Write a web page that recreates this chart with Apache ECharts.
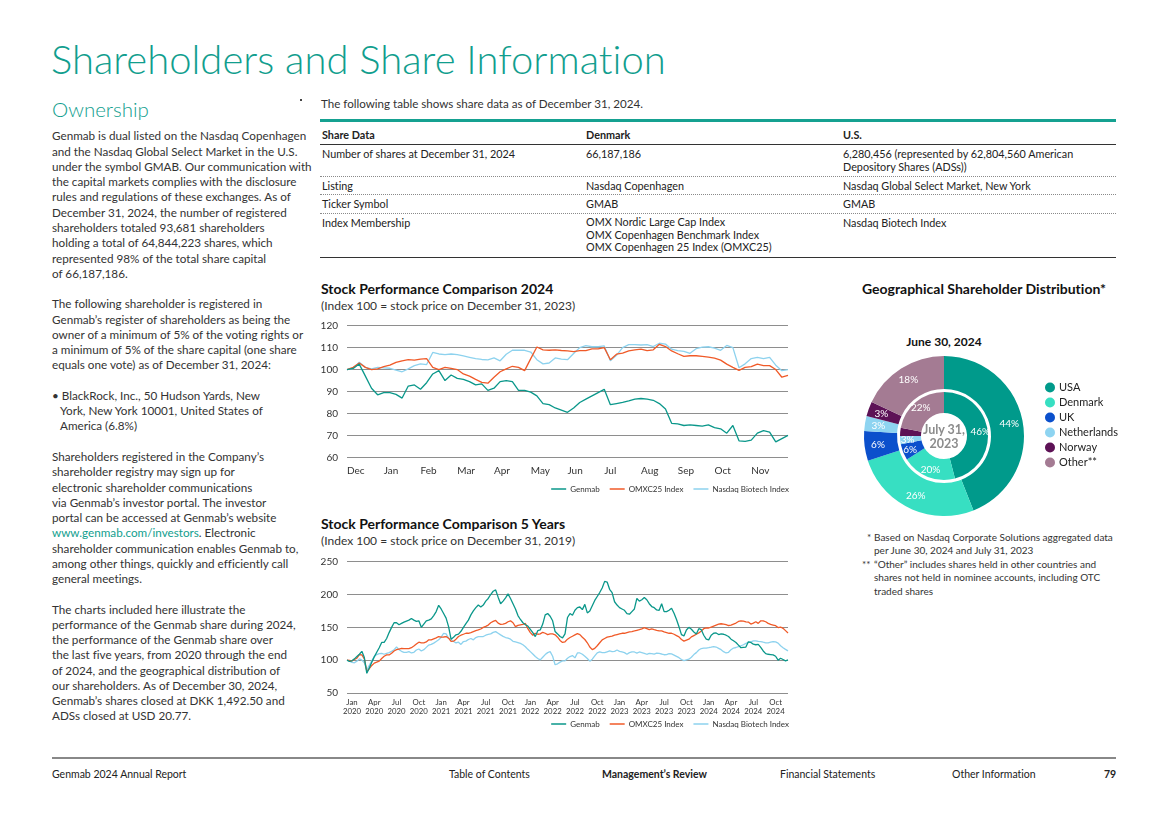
<!DOCTYPE html>
<html>
<head>
<meta charset="utf-8">
<title>Shareholders and Share Information</title>
<script src="https://cdn.jsdelivr.net/npm/echarts@6/dist/echarts.min.js"></script>
<style>
  body { margin: 0; background: #fff; }
  #page {
    position: relative;
    width: 1168px;
    height: 825px;
    overflow: hidden;
    font-family: Lato, "Noto Sans", sans-serif;
    font-variant-ligatures: none;
    color: #333;
  }
  .t { position: absolute; white-space: nowrap; }
  .teal { color: #119e8e; }
  .tbl { font-size: 10.8px; line-height: 13px; color: #222; }
  .rule { position: absolute; left: 320px; width: 796px; }
  .dot { border-top: 1px dotted #8a8a8a; }
  .ch-title { font-size: 14px; font-weight: 700; color: #111; line-height: 16px; }
  .ch-sub { font-size: 12px; color: #333; line-height: 14px; }
  .foot { font-size: 10.5px; color: #222; line-height: 12px; top: 768px; }
</style>
</head>
<body>
<div id="page">
  <div class="t teal" style="left:51px; top:35px; font-size:40px; line-height:48px; font-weight:300;">Shareholders and Share Information</div>

  <div class="t teal" style="left:52px; top:97px; font-size:20.5px; line-height:24px; font-weight:300;">Ownership</div>
  <div style="position:absolute; left:300px; top:99px; width:1.5px; height:1.5px; background:#444;"></div>

  <div class="t" style="left:52px; top:128.4px; font-size:11.7px; line-height:15.26px; color:#333;">
Genmab is dual listed on the Nasdaq Copenhagen<br>
and the Nasdaq Global Select Market in the U.S.<br>
under the symbol GMAB. Our communication with<br>
the capital markets complies with the disclosure<br>
rules and regulations of these exchanges. As of<br>
December 31, 2024, the number of registered<br>
shareholders totaled 93,681 shareholders<br>
holding a total of 64,844,223 shares, which<br>
represented 98% of the total share capital<br>
of 66,187,186.<br>
<br>
The following shareholder is registered in<br>
Genmab’s register of shareholders as being the<br>
owner of a minimum of 5% of the voting rights or<br>
a minimum of 5% of the share capital (one share<br>
equals one vote) as of December 31, 2024:<br>
<br>
• BlackRock, Inc., 50 Hudson Yards, New<br>
<span style="padding-left:8px">York, New York 10001, United States of</span><br>
<span style="padding-left:8px">America (6.8%)</span><br>
<br>
Shareholders registered in the Company’s<br>
shareholder registry may sign up for<br>
electronic shareholder communications<br>
via Genmab’s investor portal. The investor<br>
portal can be accessed at Genmab’s website<br>
<span class="teal">www.genmab.com/investors</span>. Electronic<br>
shareholder communication enables Genmab to,<br>
among other things, quickly and efficiently call<br>
general meetings.<br>
<br>
The charts included here illustrate the<br>
performance of the Genmab share during 2024,<br>
the performance of the Genmab share over<br>
the last five years, from 2020 through the end<br>
of 2024, and the geographical distribution of<br>
our shareholders. As of December 30, 2024,<br>
Genmab’s shares closed at DKK 1,492.50 and<br>
ADSs closed at USD 20.77.
  </div>

  <!-- share data table -->
  <div class="t" style="left:321px; top:97px; font-size:11.6px; line-height:14px; color:#333;">The following table shows share data as of December 31, 2024.</div>
  <div class="rule" style="top:119px; height:3px; background:#15a191;"></div>
  <div class="t tbl" style="left:322px; top:128px; font-weight:700;">Share Data</div>
  <div class="t tbl" style="left:586px; top:128px; font-weight:700;">Denmark</div>
  <div class="t tbl" style="left:843px; top:128px; font-weight:700;">U.S.</div>
  <div class="rule" style="top:143.5px; height:1px; background:#333;"></div>

  <div class="t tbl" style="left:322px; top:147px;">Number of shares at December 31, 2024</div>
  <div class="t tbl" style="left:586px; top:147px;">66,187,186</div>
  <div class="t tbl" style="left:843px; top:147px;">6,280,456 (represented by 62,804,560 American<br>Depository Shares (ADSs))</div>
  <div class="rule dot" style="top:176px;"></div>

  <div class="t tbl" style="left:322px; top:179px;">Listing</div>
  <div class="t tbl" style="left:586px; top:179px;">Nasdaq Copenhagen</div>
  <div class="t tbl" style="left:843px; top:179px;">Nasdaq Global Select Market, New York</div>
  <div class="rule dot" style="top:194px;"></div>

  <div class="t tbl" style="left:322px; top:197px;">Ticker Symbol</div>
  <div class="t tbl" style="left:586px; top:197px;">GMAB</div>
  <div class="t tbl" style="left:843px; top:197px;">GMAB</div>
  <div class="rule dot" style="top:212.5px;"></div>

  <div class="t tbl" style="left:322px; top:216px;">Index Membership</div>
  <div class="t tbl" style="left:586px; top:216px; line-height:12.5px;">OMX Nordic Large Cap Index<br>OMX Copenhagen Benchmark Index<br>OMX Copenhagen 25 Index (OMXC25)</div>
  <div class="t tbl" style="left:843px; top:216px;">Nasdaq Biotech Index</div>
  <div class="rule" style="top:257px; height:1px; background:#333;"></div>

  <!-- chart headings -->
  <div class="t ch-title" style="left:321px; top:281px;">Stock Performance Comparison 2024</div>
  <div class="t ch-sub" style="left:321px; top:299px;">(Index 100 = stock price on December 31, 2023)</div>
  <div class="t ch-title" style="left:321px; top:516px;">Stock Performance Comparison 5 Years</div>
  <div class="t ch-sub" style="left:321px; top:534px;">(Index 100 = stock price on December 31, 2019)</div>
  <div class="t ch-title" style="left:862px; top:281px;">Geographical Shareholder Distribution*</div>
  <div class="t" style="left:944px; top:335px; transform:translateX(-50%); font-size:12px; font-weight:700; color:#111; line-height:14px;">June 30, 2024</div>

  <div id="chart24" style="position:absolute; left:315px; top:315px; width:480px; height:185px;"></div>
  <div id="chart5y" style="position:absolute; left:315px; top:550px; width:480px; height:185px;"></div>
  <div id="donut" style="position:absolute; left:850px; top:330px; width:270px; height:200px;"></div>
  <div class="t" style="left:944px; top:423px; transform:translateX(-50%); text-align:center; font-size:12.5px; font-weight:700; color:#8c8c8c; line-height:14px;">July 31,<br>2023</div>

  <!-- footnotes -->
  <div class="t" style="left:867px; top:531px; font-size:10px; line-height:13.3px; color:#333;">*</div>
  <div class="t" style="left:874px; top:531px; font-size:10px; line-height:13.3px; color:#333;">Based on Nasdaq Corporate Solutions aggregated data<br>per June 30, 2024 and July 31, 2023</div>
  <div class="t" style="left:862px; top:558px; font-size:10px; line-height:13.3px; color:#333;">**</div>
  <div class="t" style="left:874px; top:558px; font-size:10px; line-height:13.3px; color:#333;">“Other” includes shares held in other countries and<br>shares not held in nominee accounts, including OTC<br>traded shares</div>

  <!-- footer -->
  <div style="position:absolute; left:52px; top:757px; width:1064px; height:2px; background:#888;"></div>
  <div class="t foot" style="left:52px;">Genmab 2024 Annual Report</div>
  <div class="t foot" style="left:449px;">Table of Contents</div>
  <div class="t foot" style="left:602px; font-weight:700;">Management’s Review</div>
  <div class="t foot" style="left:780px;">Financial Statements</div>
  <div class="t foot" style="left:952px;">Other Information</div>
  <div class="t foot" style="left:1104px; font-weight:700;">79</div>
</div>

<script>
// --- 2024 performance, index 100 = Dec 31 2023 (about 6 readings per month)
var months24 = ["Dec", "Jan", "Feb", "Mar", "Apr", "May", "Jun", "Jul", "Aug", "Sep", "Oct", "Nov"];
var ticks24 = [60, 120, 10];

var genmab24 = [100,100.5,102.5,97,91.5,88.5,89.5,89.5,88.7,87,
  92.5,93,91,94,98,99.5,95,97.5,96,95.5,
  94.5,93,93.5,90.5,91.5,94.5,95,94.5,90.5,90.5,
  89.7,88,84.5,84,82.5,81.5,80.5,82.5,85,86.5,
  88,89.5,91,84,84.5,85,85.7,86.5,86.8,86.5,
  86,84.5,82,75.5,75.2,74.5,74.8,74.5,74.2,74.8,
  73.5,73,71,74.5,67.5,67.3,67.8,71,72.2,71.5,
  67,68.5,70];
var omx24 = [100,101,103,101,100,100.3,101.3,102,103.3,104,
  104.5,104.3,104.8,105,101,100,101,100.5,100,98,
  97,95.5,94.2,93.8,96.5,99,100.3,101.5,101,99.5,
  105,110.3,109,108.8,109,108.7,108.5,108.2,108.6,108.6,
  109.4,109.4,110,104.5,107,107.5,108.5,109,109.3,108.6,
  109,111.5,110.5,108.5,107.2,106,106.3,106.3,106,105.7,
  105.2,104.3,102.5,101,99.6,101,101.3,102.5,101.8,101.8,
  100,96.5,97.3];
var nbi24 = [100,100.5,103.3,101,100.3,101,100.8,100.6,99.8,99,
  100.3,101.8,102.6,102.3,107.8,107.1,106.8,107.1,106.8,106.2,
  105.6,105,104.6,104.4,105.3,104,107,108.8,108.8,108.8,
  108,104.5,102.6,103,105.3,104.8,104.5,107.3,110,110.9,
  110.4,110.5,110.8,104,106.5,110,111.4,111.4,111.2,111.4,
  110.5,112,111.6,109.3,108.6,108.3,107.4,109.5,110.2,110.4,
  109.8,108.8,111,110,100.8,102.6,105,105.6,105,105.6,
  102,99.5,100];

// --- 5 years, index 100 = Dec 31 2019 (about 3 readings per month)
var quarters5 = ["Jan", "Apr", "Jul", "Oct"];
var years5 = [2020, 2021, 2022, 2023, 2024];
var ticks5 = [50, 250, 50];

var genmab5 = [100,98,99,102,105.6,109,113.5,104,80,88,
  97,105,112,119,127,127,133,142,150,157,
  157,154,156,158,159.5,161,163.5,161,159,160,
  150,155,160,161,163,168,174,183.5,178,171,
  164,151,132,135,138.6,139.6,144,150,155.5,161,
  169,175,180,184,181,184,190,194,200,205,
  207,196,186,190,195,201,194,186,178,168,
  162,157,154,152,147,142,136,145,146,155,
  169,171,167,160,143.6,140,136,134,140,165,
  171,168.5,176,180,181,177,185,172,175,183,
  191,197,203,210,220,219,208,203,189,184,
  180,178,176,171,170,174,178,194,190,192,
  195.5,192,186,181.7,180,176.5,176,186,174,174,
  176,179,171.5,162,151,139,137,146,150,147,
  143,140,148,146.5,138,132,131,138,141,141.5,
  139,140,139.5,138,136,132,129.5,127,123,119,
  119.5,120,128,127,124.5,123.5,124,119.5,114,110,
  109,108.5,108,106,100,103,101,99,100.5];
var omx5 = [100,99.5,99,101,103,108.5,108,102,83,87,
  92,95.5,97,98.5,102.5,106,108,108,110.5,114,
  116,117,118,117.5,117.5,117.5,119,121.5,124.5,127.4,
  126.2,126.5,127.8,131,131,132.5,134,136,135,135.3,
  136,133.5,128.5,129,132,136,138,139.5,141,141,
  142,143.5,145,146,147.5,150,151.5,153.5,157,159,
  160.5,156.5,154.5,155,156,158.5,160,157,151,153,
  153.8,154.5,156,148,142,138,141,139.5,140,142.5,
  141,139,140,140,138.6,135,130,127,128,132,
  134.5,136.5,138.5,140.5,139,135,131.5,126.5,120,116,
  118,122,126.5,131,133,135,136,136.5,138,139,
  140,141,141,142,143,143.6,144.5,145.5,146.5,147.7,
  149.5,148,146.5,147.7,146.5,145.5,144.7,144.7,143,142,
  141,141,139.5,137.5,135.5,131.5,129,130.5,132,135.5,
  137.5,139.5,141.5,144.5,148,149.3,149,150.5,152,153.5,
  154.8,155.5,155,154,152.8,153.5,155,156.5,159,160,
  159.5,158.5,158,155,156.5,158.5,156,160,160,158.5,
  156,154.5,153.5,152.5,149.7,150.5,148.5,145,141.5];
var nbi5 = [100,98.5,96.5,96,98.5,102,100,96,85,92,
  99,105.6,108.5,110,110.5,109,110.5,111.5,113.5,116,
  120,116,113.5,112,112,113,111,112,115.5,117,
  114,116,119.5,123,124,126,128.5,131,135,141,
  140,133.5,131.5,128.5,126.3,127.4,124,128.4,129,131.5,
  133,131,134.5,136,136,136,138,139.2,140,142.3,
  143.5,141,138.5,136.3,134.5,133.5,132,128.8,127.8,126.8,
  125.5,123.5,120.5,116.5,113,109.5,105.5,102.5,100.5,104.5,
  108.5,111.5,113,106,93,94.5,97,99,99,103,
  105.5,107,103.5,111,111,109,106,102.5,98.5,101.5,
  106.5,111,112.7,111.5,111.5,112.8,114,113,113.5,115.5,
  113.5,112.5,111.5,109,111.5,112.5,112.5,110.7,112.5,111.5,
  110.5,109,110.3,110,109.3,110.7,110.2,109.4,108.3,108.5,
  110,109.5,107.8,105.8,103.8,101,99.2,100.4,101.5,104.5,
  108.5,111.5,115.5,117.7,118.3,118.5,119,119.8,120.8,120,
  118,116,113,111,112,116,118.5,119.3,120.5,122,
  123.5,125.5,127,128,129.4,129.4,128.5,128.4,127.4,126.5,
  126.5,127.5,128.4,127.8,126,122,119,116.5,114.2];

// --- geographical distribution, percent
var regions = ["USA", "Denmark", "UK", "Netherlands", "Norway", "Other**"];
var share2024 = [44, 26, 6, 3, 3, 18];
var share2023 = [46, 20, 6, 3, 3, 22];

var seriesNames = ["Genmab", "OMXC25 Index", "Nasdaq Biotech Index"];
var lineColors = ["#0a978a", "#f05a28", "#8dd2ee"];
var regionColors = ["#009a8b", "#37dfc2", "#0b50cc", "#8ed4f1", "#5d1256", "#a47b93"];
var fontFamily = "Lato, 'Noto Sans', sans-serif";

function lineSeries(values) {
  return values.map(function (data, i) {
    return {
      name: seriesNames[i],
      type: "line",
      data: data,
      showSymbol: false,
      symbol: "none",
      z: 3 - i,
      lineStyle: { width: 1.3, color: lineColors[i] },
      itemStyle: { color: lineColors[i] },
      silent: true,
    };
  });
}

function baseOption(ticks, gridTop, gridHeight) {
  return {
    animation: false,
    textStyle: { fontFamily: fontFamily },
    grid: { left: 32, right: 7, top: gridTop, height: gridHeight },
    legend: {
      data: seriesNames,
      right: 6,
      top: 170,
      padding: 0,
      icon: "rect",
      itemWidth: 15,
      itemHeight: 1.5,
      itemGap: 10,
      textStyle: { fontSize: 8, color: "#333", fontFamily: fontFamily, padding: [0, 0, 0, -1] },
    },
    yAxis: {
      type: "value",
      min: ticks[0],
      max: ticks[1],
      interval: ticks[2],
      axisLine: { show: false },
      axisTick: { show: false },
      axisLabel: { color: "#333", fontSize: 10, margin: 9, fontFamily: fontFamily },
      splitLine: { lineStyle: { color: "#8e8e8e", width: 1 } },
    },
  };
}

// 2024 chart
var chart24 = echarts.init(document.getElementById("chart24"), null, { renderer: "canvas" });
var opt24 = baseOption(ticks24, 10.7, 131.6);
opt24.xAxis = {
  type: "category",
  boundaryGap: false,
  data: genmab24.map(function (v, i) { return String(i); }),
  axisLine: { show: false },
  axisTick: { show: false },
  axisLabel: {
    interval: function (index) { return index % 6 === 0 && index < 72; },
    formatter: function (value, index) { return months24[index / 6] || ""; },
    align: "left",
    color: "#333",
    fontSize: 10,
    margin: 8,
    fontFamily: fontFamily,
  },
};
opt24.series = lineSeries([genmab24, omx24, nbi24]);
chart24.setOption(opt24);

// 5 year chart
var chart5y = echarts.init(document.getElementById("chart5y"));
var opt5 = baseOption(ticks5, 11.7, 131.3);
opt5.xAxis = {
  type: "category",
  boundaryGap: false,
  data: genmab5.map(function (v, i) { return String(i); }),
  axisLine: { show: false },
  axisTick: { show: false },
  axisLabel: {
    interval: function (index) { return index >= 2 && (index - 2) % 9 === 0 && index <= 173; },
    formatter: function (value, index) {
      var q = (index - 2) / 9;
      return quarters5[q % 4] + "\n" + years5[Math.floor(q / 4)];
    },
    color: "#333",
    fontSize: 7.8,
    lineHeight: 9,
    margin: 5,
    fontFamily: fontFamily,
  },
};
opt5.series = lineSeries([genmab5, omx5, nbi5]);
chart5y.setOption(opt5);

// donut
function ringData(values) {
  return values.map(function (v, i) {
    return { name: regions[i], value: v, itemStyle: { color: regionColors[i] } };
  });
}
var donut = echarts.init(document.getElementById("donut"));
donut.setOption({
  animation: false,
  textStyle: { fontFamily: fontFamily },
  legend: {
    data: regions,
    orient: "vertical",
    left: 195,
    top: 52,
    padding: 0,
    icon: "circle",
    itemWidth: 10,
    itemHeight: 10,
    itemGap: 4,
    textStyle: { fontSize: 11, color: "#222", fontFamily: fontFamily, padding: [0, 0, 0, -1] },
  },
  series: [
    {
      type: "pie",
      center: [94, 106],
      radius: [23, 44],
      startAngle: 90,
      silent: true,
      label: { position: "inside", formatter: "{c}%", color: "#fff", fontSize: 10, fontFamily: fontFamily },
      labelLine: { show: false },
      data: ringData(share2023),
    },
    {
      type: "pie",
      center: [94, 106],
      radius: [47, 80],
      startAngle: 90,
      silent: true,
      label: { position: "inside", formatter: "{c}%", color: "#fff", fontSize: 10, fontFamily: fontFamily },
      labelLine: { show: false },
      data: ringData(share2024),
    },
  ],
});
</script>
</body>
</html>
